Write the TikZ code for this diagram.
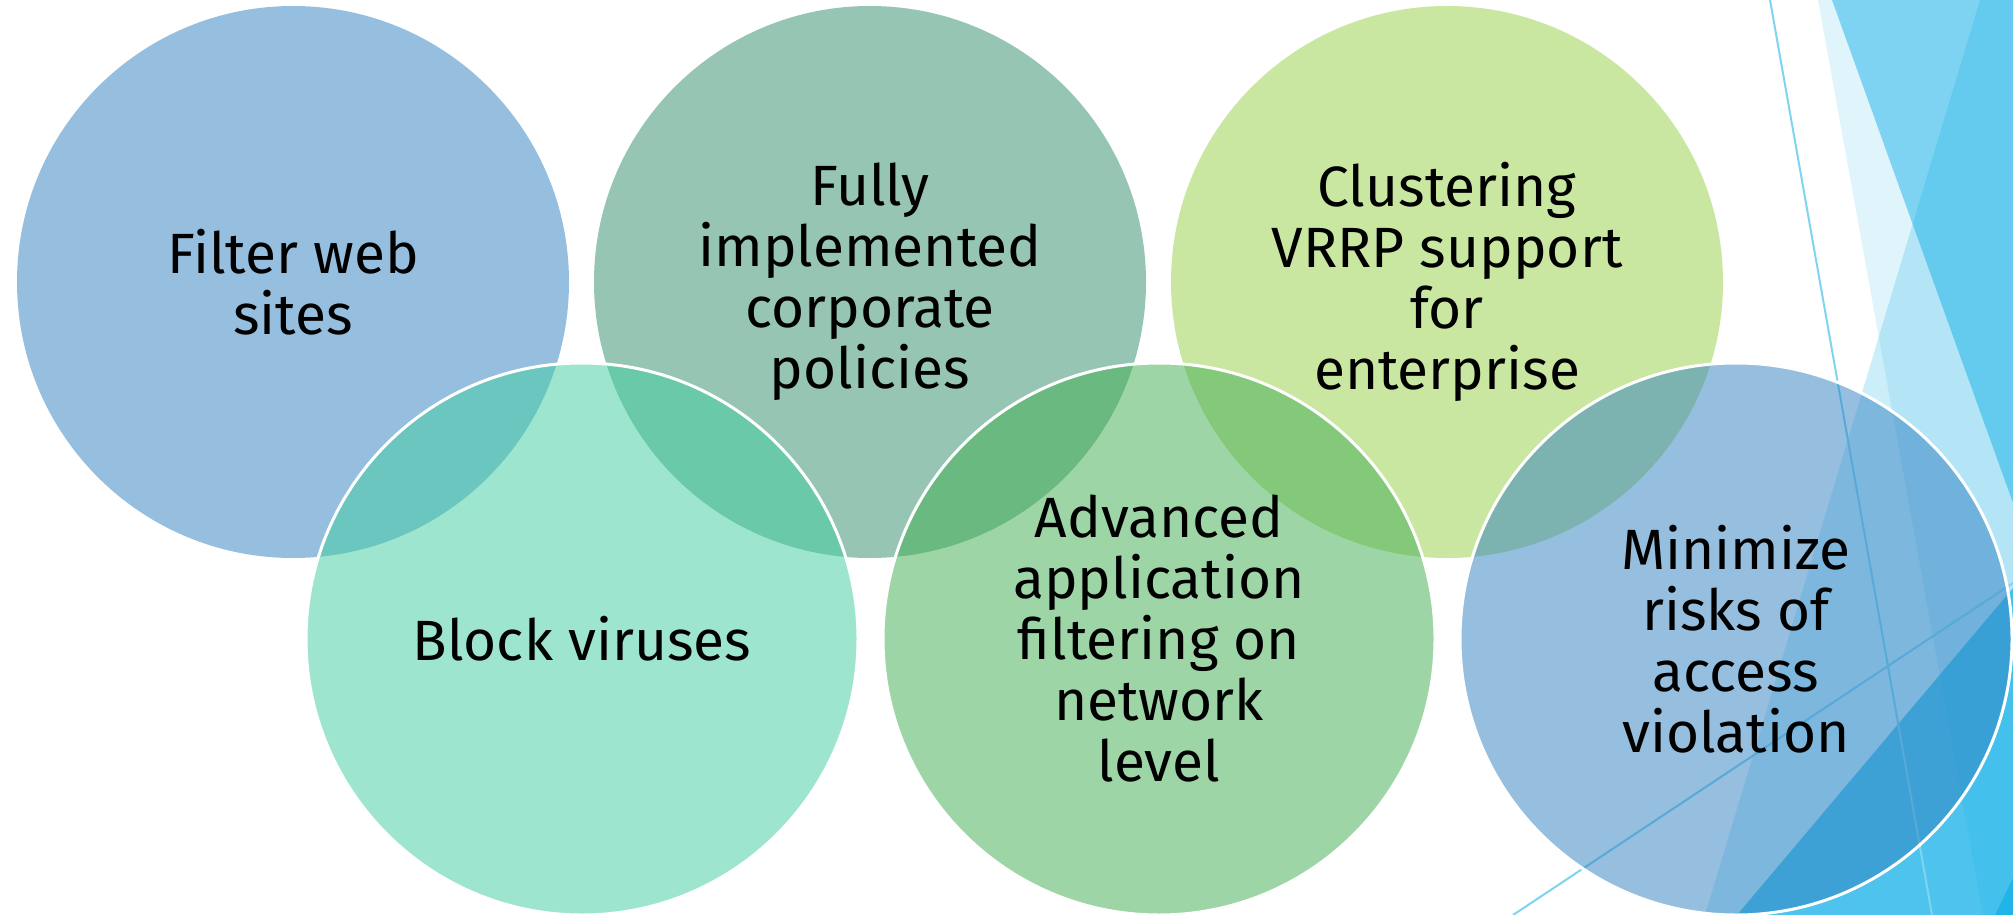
\documentclass[tikz,border=0pt]{standalone}
\usepackage{fontspec}
\setmainfont{Fira Sans}
\definecolor{cBlue}{RGB}{47,129,193}
\definecolor{cSea}{RGB}{47,143,105}
\definecolor{cLime}{RGB}{151,209,71}
\definecolor{cTeal}{RGB}{63,205,161}
\definecolor{cGreen}{RGB}{63,173,81}
\definecolor{facet}{RGB}{0,170,230}
\definecolor{thinline}{RGB}{128,212,240}
\begin{document}
\begin{tikzpicture}[x=0.5pt,y=-0.5pt,
  bubble/.style={circle, minimum size=276pt, inner sep=0pt, fill opacity=0.5,
    text opacity=1, align=center, text=black,
    font=\fontsize{28.4pt}{30.5pt}\selectfont},
  upperbubble/.style={bubble, draw=none},
  lowerbubble/.style={bubble, draw=white, draw opacity=1, line width=1.5pt},
  facetshape/.style={fill=facet, draw=none},
  facetline/.style={draw=thinline, line width=1pt}]
\useasboundingbox (0,0) rectangle (2013,915);
\fill[white] (0,0) rectangle (2013,915);
% background facets
\fill[facetshape, fill opacity=0.12] (1818,0) -- (2013,0) -- (2013,915) -- (1983,915) -- cycle;
\fill[facetshape, fill opacity=0.44] (1832,0) -- (2013,0) -- (2013,503) -- cycle;
\fill[facetshape, fill opacity=0.20] (1980,0) -- (2013,0) -- (2013,915) -- (1705,915) -- cycle;
\fill[facetshape, fill opacity=0.62] (2013,588) -- (2013,915) -- (1737,915) -- cycle;
\fill[facetshape, fill opacity=0.50] (2013,878) -- (2013,915) -- (1995,915) -- cycle;
\draw[facetline] (1770,0) -- (1932,915);
\draw[facetline] (1513,915) -- (2013,583);
% upper circles
\node[upperbubble, fill=cBlue] (c1) at (293,282) {Filter web\\sites};
\node[upperbubble, fill=cSea]  (c2) at (870,282) {Fully\\implemented\\corporate\\policies};
\node[upperbubble, fill=cLime] (c3) at (1447,282) {Clustering\\VRRP support\\for\\enterprise};
% lower circles
\node[lowerbubble, fill=cTeal]  (c4) at (582,639) {Block viruses};
\node[lowerbubble, fill=cGreen] (c5) at (1159,639) {Advanced\\application\\filtering on\\network\\level};
\node[lowerbubble, fill=cBlue]  (c6) at (1736,639) {Minimize\\risks of\\access\\violation};
\end{tikzpicture}
\end{document}
